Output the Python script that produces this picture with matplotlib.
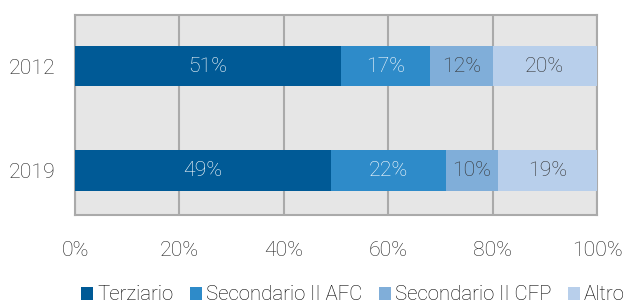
import matplotlib
matplotlib.use("Agg")
import matplotlib.pyplot as plt
import numpy as np

years = ["2019", "2012"]
categories = ["Terziario", "Secondario II AFC", "Secondario II CFP", "Altro"]
values = {
    "Terziario": [49, 51],
    "Secondario II AFC": [22, 17],
    "Secondario II CFP": [10, 12],
    "Altro": [19, 20],
}
colors = ["#005a96", "#2e8bc9", "#80aed9", "#b8cfeb"]
text_colors = ["white", "white", "#333333", "#333333"]
xticks = [0, 20, 40, 60, 80, 100]
xticklabels = ["0%", "20%", "40%", "60%", "80%", "100%"]

plt.rcParams['font.family'] = ['Roboto', 'DejaVu Sans']
plt.rcParams['font.weight'] = 'light'
FS = 15.3
LFS = 14.7

fig = plt.figure(figsize=(6.25, 3.06), dpi=100)
ax = fig.add_axes([75/625, 1 - 215/306, 522/625, 200/306])
ax.set_facecolor("#e6e6e6")

y = np.arange(len(years))
left = np.zeros(len(years))
for cat, col, tc in zip(categories, colors, text_colors):
    v = np.array(values[cat], dtype=float)
    ax.barh(y, v, left=left, height=0.39, color=col, label=cat, zorder=3)
    for yi, (l, w) in enumerate(zip(left, v)):
        ax.text(l + w / 2, yi, f"{int(w)}%", ha="center", va="center",
                color=tc, fontsize=FS, fontweight="light", zorder=4)
    left += v

ax.set_xlim(0, 100)
ax.set_ylim(-0.43, 1.49)
ax.set_xticks(xticks)
ax.set_xticklabels(xticklabels)
ax.set_yticks(y)
ax.set_yticklabels(years)
ax.tick_params(axis="both", length=0, labelsize=FS, colors="#222222")
ax.tick_params(axis="x", pad=19)
ax.tick_params(axis="y", pad=14)
ax.grid(axis="x", color="#aaaaaa", linewidth=1.5, zorder=1)
for s in ax.spines.values():
    s.set_color("#aaaaaa")
    s.set_linewidth(1.5)

ax.legend(loc="center", bbox_to_anchor=(0.5326, -0.40), ncol=4, frameon=False,
          fontsize=LFS, handlelength=0.59, handleheight=0.59, handletextpad=0.2,
          columnspacing=0.8, borderaxespad=0, borderpad=0)

fig.savefig("out.png", dpi=100)
